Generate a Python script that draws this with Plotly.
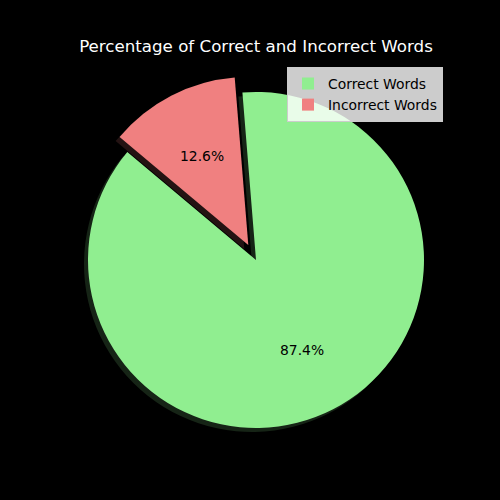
import math
import plotly.graph_objects as go

labels = ["Correct Words", "Incorrect Words"]
values = [87.4, 12.6]
colors = ["#90ee90", "#f08080"]
shadow_colors = ["rgb(22,36,22)", "rgb(36,19,19)"]
pulls = [0, 0.1]
start_angle = 140  # matplotlib-style start angle (degrees, ccw from 3 o'clock)
pct_distance = 0.6

total = sum(values)
# plotly rotation: clockwise position (from 12 o'clock) where first slice begins (clockwise)
rotation = 90 - (start_angle + 360 * values[0] / total) + 360

W = H = 500
cx, cy, R = 256, 260, 168
half = R * 1.1
dx, dy = -4, 4

def dom(ox, oy):
    return dict(x=[(cx + ox - half) / W, (cx + ox + half) / W],
                y=[1 - (cy + oy + half) / H, 1 - (cy + oy - half) / H])

fig = go.Figure()
fig.add_trace(go.Pie(labels=labels, values=values, sort=False, direction="clockwise",
                     rotation=rotation, pull=pulls, marker=dict(colors=shadow_colors, line=dict(width=0)),
                     textinfo="none", hoverinfo="skip", showlegend=False, domain=dom(dx, dy)))
fig.add_trace(go.Pie(labels=labels, values=values, sort=False, direction="clockwise",
                     rotation=rotation, pull=pulls, marker=dict(colors=colors, line=dict(width=0)),
                     textinfo="none", domain=dom(0, 0)))

# percentage labels placed matplotlib-style (pctdistance along slice bisector)
annotations = []
acc = start_angle
for v, p in zip(values, pulls):
    span = 360 * v / total
    mid = math.radians(acc + span / 2)
    rr = R * (pct_distance + p)
    px = cx + rr * math.cos(mid)
    py = cy - rr * math.sin(mid)
    annotations.append(dict(x=px / W, y=1 - py / H, xref="paper", yref="paper",
                            text=f"{v / total * 100:.1f}%", showarrow=False,
                            font=dict(color="black", size=13.9, family="DejaVu Sans"),
                            xanchor="center", yanchor="middle"))
    acc += span

fig.update_layout(
    width=W, height=H, margin=dict(l=0, r=0, t=0, b=0),
    paper_bgcolor="black", plot_bgcolor="black",
    font=dict(family="DejaVu Sans", color="black"),
    title=dict(text="Percentage of Correct and Incorrect Words", x=0.512, xanchor="center",
               y=1 - 46 / H, yanchor="middle", font=dict(color="white", size=16.67, family="DejaVu Sans")),
    legend=dict(x=443 / W, xanchor="right", y=1 - 67 / H, yanchor="top",
                bgcolor="rgba(255,255,255,0.8)", bordercolor="rgb(204,204,204)", borderwidth=1,
                font=dict(size=13.9, color="black", family="DejaVu Sans"), traceorder="normal"),
    annotations=annotations,
)

fig.write_html("out.html", config={"displayModeBar": False},
               post_script="document.body.style.margin='0';document.body.style.background='black';")
